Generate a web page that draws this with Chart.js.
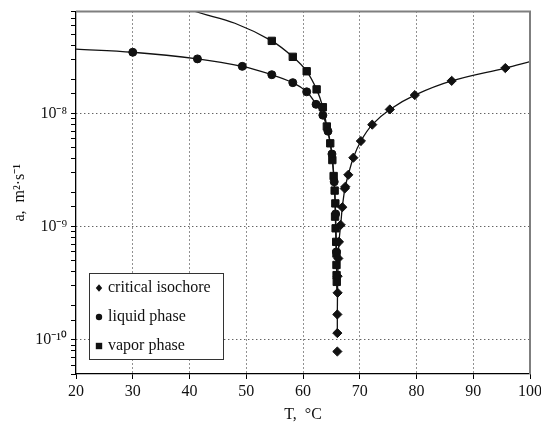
<!DOCTYPE html>
<html>
<head>
<meta charset="utf-8">
<script src="https://cdn.jsdelivr.net/npm/chart.js@4.4.1/dist/chart.umd.min.js"></script>
<style>
  html, body { margin: 0; padding: 0; background: #fff; }
  #wrap { width: 541px; height: 424px; }
</style>
</head>
<body>
<div id="wrap"><canvas id="chart" width="541" height="424"></canvas></div>
<script>
// series names, in legend order
const seriesLabels = ['critical isochore', 'liquid phase', 'vapor phase'];

// measured points (T in degC, a in m2/s)
const critT = [95.65, 86.2, 79.7, 75.3, 72.2, 70.2, 68.87, 67.98, 67.46, 67.35, 66.93, 66.64, 66.34, 66.22, 66.1, 66.1, 66.05, 66.05, 66.05];
const critA = [2.53e-8, 1.95e-8, 1.46e-8, 1.09e-8, 8.0e-9, 5.73e-9, 4.08e-9, 2.88e-9, 2.26e-9, 2.18e-9, 1.49e-9, 1.04e-9, 7.36e-10, 5.25e-10, 3.66e-10, 2.61e-10, 1.68e-10, 1.15e-10, 7.9e-11];

const liquidT = [30.0, 41.4, 49.3, 54.5, 58.2, 60.65, 62.3, 63.5, 64.4, 65.1, 65.5, 65.75, 65.9];
const liquidA = [3.49e-8, 3.05e-8, 2.62e-8, 2.21e-8, 1.88e-8, 1.56e-8, 1.21e-8, 9.7e-9, 7.0e-9, 4.4e-9, 2.5e-9, 1.3e-9, 6.0e-10];

const vaporT = [54.5, 58.2, 60.65, 62.4, 63.5, 64.2, 64.8, 65.17, 65.4, 65.58, 65.7, 65.65, 65.75, 65.85, 65.9, 65.9, 65.92, 65.95];
const vaporA = [4.4e-8, 3.18e-8, 2.37e-8, 1.64e-8, 1.14e-8, 7.7e-9, 5.47e-9, 3.89e-9, 2.81e-9, 2.09e-9, 1.61e-9, 1.23e-9, 9.7e-10, 7.36e-10, 5.8e-10, 4.6e-10, 3.74e-10, 3.26e-10];

// fitted curves
const critFitT = [66.05, 66.05, 66.1, 66.22, 66.34, 66.64, 66.93, 67.4, 67.98, 68.87, 70.2, 72.2, 75.3, 79.7, 86.2, 95.65, 100];
const critFitA = [1.15e-10, 1.68e-10, 3.0e-10, 5.25e-10, 7.36e-10, 1.04e-9, 1.49e-9, 2.2e-9, 2.88e-9, 4.08e-9, 5.73e-9, 8.0e-9, 1.09e-8, 1.46e-8, 1.95e-8, 2.53e-8, 2.88e-8];

const liquidFitT = [20, 30, 41.4, 49.3, 54.5, 58.2, 60.65, 62.3, 63.5, 64.4, 65.1, 65.6, 65.9, 66.02];
const liquidFitA = [3.72e-8, 3.49e-8, 3.05e-8, 2.62e-8, 2.21e-8, 1.88e-8, 1.56e-8, 1.21e-8, 9.7e-9, 7.0e-9, 4.4e-9, 2.0e-9, 6.0e-10, 2.5e-10];

const vaporFitT = [38, 41, 48, 54.5, 58.2, 60.65, 62.4, 63.5, 64.2, 64.8, 65.17, 65.58, 65.75, 65.9, 66.0];
const vaporFitA = [9.3e-8, 8.0e-8, 6.3e-8, 4.4e-8, 3.18e-8, 2.37e-8, 1.64e-8, 1.14e-8, 7.7e-9, 5.47e-9, 3.89e-9, 2.09e-9, 9.7e-10, 4.6e-10, 2.6e-10];

// axis ranges
const xMin = 20, xMax = 100, xStep = 10;
const yMin = 5e-11, yMax = 8e-8;

const ink = '#111';
const serif = 'Liberation Serif';

function pts(xs, ys) {
    return xs.map((x, i) => ({ x: x, y: ys[i] }));
}

function isDecade(v) {
    const l = Math.log10(v);
    return Math.abs(l - Math.round(l)) < 1e-6;
}

function powLabel(v) {
    const sup = { '-': '\u207B', '0': '\u2070', '1': '\u00B9', '2': '\u00B2', '3': '\u00B3', '4': '\u2074',
                  '5': '\u2075', '6': '\u2076', '7': '\u2077', '8': '\u2078', '9': '\u2079' };
    const e = String(Math.round(Math.log10(v)));
    return '10' + e.split('').map(c => sup[c]).join('');
}

function markerSet(label, style, r, xs, ys) {
    return {
        label: label,
        isMarker: true,
        data: pts(xs, ys),
        showLine: false,
        pointStyle: style,
        pointRadius: r,
        pointBackgroundColor: ink,
        pointBorderColor: ink,
        pointBorderWidth: 1
    };
}

function curveSet(xs, ys) {
    return {
        label: '',
        data: pts(xs, ys),
        borderColor: ink,
        borderWidth: 1.3,
        pointRadius: 0,
        tension: 0.35,
        fill: false
    };
}

function drawMarker(ctx, style, x, y, r) {
    ctx.beginPath();
    if (style === 'circle') {
        ctx.arc(x, y, r, 0, Math.PI * 2);
    } else if (style === 'rect') {
        ctx.rect(x - r, y - r, 2 * r, 2 * r);
    } else {
        ctx.moveTo(x, y - r * 1.15);
        ctx.lineTo(x + r, y);
        ctx.lineTo(x, y + r * 1.15);
        ctx.lineTo(x - r, y);
        ctx.closePath();
    }
    ctx.fill();
}

// framed legend inside the plot, lower left
const boxLegend = {
    id: 'boxLegend',
    afterDraw(chart) {
        const ctx = chart.ctx;
        const sets = chart.data.datasets.filter(d => d.isMarker);
        ctx.save();
        ctx.fillStyle = '#fff';
        ctx.strokeStyle = '#333';
        ctx.lineWidth = 1;
        ctx.fillRect(89.5, 273.5, 134, 86);
        ctx.strokeRect(89.5, 273.5, 134, 86);
        ctx.font = '16px "' + serif + '"';
        ctx.textBaseline = 'middle';
        ctx.fillStyle = ink;
        sets.forEach((ds, i) => {
            const y = 288 + i * 29;
            drawMarker(ctx, ds.pointStyle, 99, y, 3.2);
            ctx.fillText(ds.label, 108, y);
        });
        ctx.restore();
    }
};

// grey top and right frame
const frame = {
    id: 'frame',
    afterDatasetsDraw(chart) {
        const a = chart.chartArea;
        const ctx = chart.ctx;
        ctx.save();
        ctx.strokeStyle = '#7f7f7f';
        ctx.lineWidth = 2;
        ctx.beginPath();
        ctx.moveTo(a.left, a.top);
        ctx.lineTo(a.right, a.top);
        ctx.lineTo(a.right, a.bottom);
        ctx.stroke();
        ctx.restore();
    }
};

new Chart('chart', {
    type: 'line',
    data: {
        datasets: [
            markerSet(seriesLabels[0], 'rectRot', 4.6, critT, critA),
            markerSet(seriesLabels[1], 'circle', 4, liquidT, liquidA),
            markerSet(seriesLabels[2], 'rect', 5.2, vaporT, vaporA),
            curveSet(critFitT, critFitA),
            curveSet(liquidFitT, liquidFitA),
            curveSet(vaporFitT, vaporFitA)
        ]
    },
    options: {
        responsive: false,
        animation: false,
        events: [],
        layout: { padding: { top: 11.5, right: 11, bottom: 0, left: 0 } },
        plugins: {
            legend: { display: false },
            tooltip: { enabled: false }
        },
        scales: {
            x: {
                type: 'linear',
                min: xMin,
                max: xMax,
                afterFit: s => { s.height = 50; s.paddingLeft = 0; s.paddingRight = 0; },
                border: { color: '#000', width: 1.3, dash: [1, 3] },
                grid: {
                    color: c => (c.tick && c.tick.value > xMin && c.tick.value < xMax) ? '#222' : 'rgba(0,0,0,0)',
                    lineWidth: 1,
                    tickColor: '#000',
                    tickLength: 5,
                    tickWidth: 1,
                    tickBorderDash: []
                },
                ticks: {
                    stepSize: xStep,
                    autoSkip: false,
                    maxRotation: 0,
                    padding: 3,
                    color: ink,
                    font: { family: serif, size: 16 }
                },
                title: {
                    display: true,
                    text: 'T,  \u00B0C',
                    color: ink,
                    font: { family: serif, size: 16 },
                    padding: { top: 0, bottom: 0 }
                }
            },
            y: {
                type: 'logarithmic',
                min: yMin,
                max: yMax,
                afterFit: s => { s.width = 76; s.paddingTop = 0; s.paddingBottom = 0; },
                border: { color: '#000', width: 1.3, dash: [1, 3] },
                grid: {
                    color: c => (c.tick && isDecade(c.tick.value)) ? '#222' : 'rgba(0,0,0,0)',
                    lineWidth: 1,
                    tickColor: '#000',
                    tickLength: 5,
                    tickWidth: 1,
                    tickBorderDash: []
                },
                ticks: {
                    autoSkip: false,
                    padding: 4,
                    color: ink,
                    font: { family: serif, size: 16 },
                    callback: v => isDecade(v) ? powLabel(v) : ''
                },
                title: {
                    display: true,
                    text: 'a,  m\u00B2\u00B7s\u207B\u00B9',
                    color: ink,
                    font: { family: serif, size: 16 },
                    padding: { top: 10, bottom: 0 }
                }
            }
        }
    },
    plugins: [frame, boxLegend]
});
</script>
</body>
</html>
